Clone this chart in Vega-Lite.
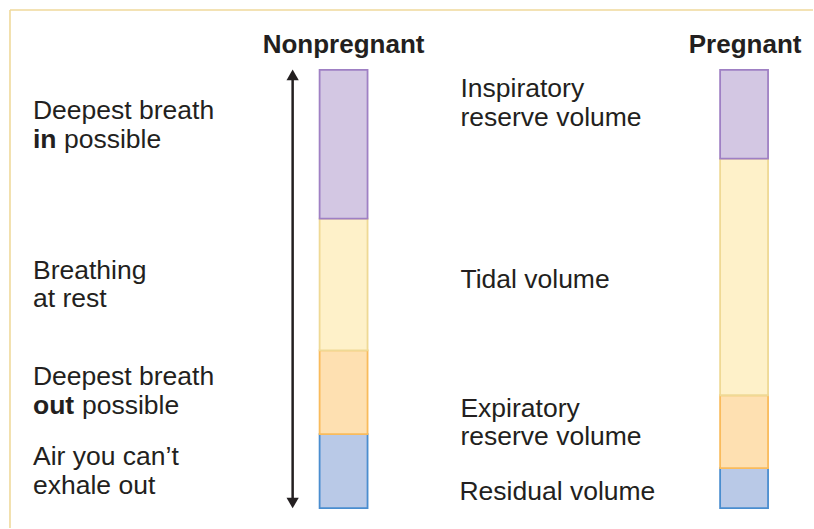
{
  "$schema": "https://vega.github.io/schema/vega-lite/v6.json",
  "width": 814,
  "height": 529,
  "autosize": {"type": "fit", "contains": "padding"},
  "padding": 0,
  "background": "white",
  "config": {"view": {"stroke": null}},
  "datasets": {
    "frame": [
      {"x": 10, "x2": 10, "y": 499, "y2": -20},
      {"x": 10, "x2": 814, "y": 499, "y2": 499}
    ],
    "segments": [
      {"group": "Nonpregnant", "x": 320, "x2": 368, "component": "Residual volume", "lo": 0, "hi": 74},
      {"group": "Nonpregnant", "x": 320, "x2": 368, "component": "Expiratory reserve volume", "lo": 74, "hi": 158},
      {"group": "Nonpregnant", "x": 320, "x2": 368, "component": "Tidal volume", "lo": 158, "hi": 290},
      {"group": "Nonpregnant", "x": 320, "x2": 368, "component": "Inspiratory reserve volume", "lo": 290, "hi": 439},
      {"group": "Pregnant", "x": 721, "x2": 769, "component": "Residual volume", "lo": 0, "hi": 40},
      {"group": "Pregnant", "x": 721, "x2": 769, "component": "Expiratory reserve volume", "lo": 40, "hi": 113},
      {"group": "Pregnant", "x": 721, "x2": 769, "component": "Tidal volume", "lo": 113, "hi": 350},
      {"group": "Pregnant", "x": 721, "x2": 769, "component": "Inspiratory reserve volume", "lo": 350, "hi": 439}
    ],
    "arrow": [{"x": 293, "y": 5, "y2": 434}],
    "heads": [
      {"x": 293, "y": 434, "dir": "up"},
      {"x": 293, "y": 5, "dir": "down"}
    ],
    "titles": [
      {"text": "Nonpregnant", "x": 344, "y": 456},
      {"text": "Pregnant", "x": 746, "y": 456}
    ],
    "labels": [
      {"text": "Deepest breath", "x": 33, "y": 390, "weight": "normal"},
      {"text": "in", "x": 33, "y": 361, "weight": "bold"},
      {"text": "possible", "x": 64, "y": 361, "weight": "normal"},
      {"text": "Breathing", "x": 33, "y": 229, "weight": "normal"},
      {"text": "at rest", "x": 33, "y": 201, "weight": "normal"},
      {"text": "Deepest breath", "x": 33, "y": 123, "weight": "normal"},
      {"text": "out", "x": 33, "y": 94, "weight": "bold"},
      {"text": "possible", "x": 82, "y": 94, "weight": "normal"},
      {"text": "Air you can’t", "x": 33, "y": 43, "weight": "normal"},
      {"text": "exhale out", "x": 33, "y": 14, "weight": "normal"},
      {"text": "Inspiratory", "x": 461, "y": 412, "weight": "normal"},
      {"text": "reserve volume", "x": 461, "y": 383, "weight": "normal"},
      {"text": "Tidal volume", "x": 461, "y": 220, "weight": "normal"},
      {"text": "Expiratory", "x": 461, "y": 91, "weight": "normal"},
      {"text": "reserve volume", "x": 461, "y": 63, "weight": "normal"},
      {"text": "Residual volume", "x": 460, "y": 8, "weight": "normal"}
    ]
  },
  "encoding": {
    "x": {"field": "x", "type": "quantitative", "scale": {"domain": [0, 814], "nice": false, "zero": false}, "axis": null},
    "y": {"field": "y", "type": "quantitative", "scale": {"domain": [-20, 509], "nice": false, "zero": false}, "axis": null}
  },
  "layer": [
    {
      "data": {"name": "frame"},
      "mark": {"type": "rule", "stroke": "#efd99b", "strokeWidth": 1.6},
      "encoding": {"x2": {"field": "x2"}, "y2": {"field": "y2"}}
    },
    {
      "data": {"name": "segments"},
      "mark": {"type": "rect", "strokeWidth": 1.8},
      "encoding": {
        "y": {"field": "lo", "type": "quantitative"},
        "y2": {"field": "hi"},
        "x2": {"field": "x2"},
        "fill": {
          "field": "component", "type": "nominal", "legend": null,
          "scale": {
            "domain": ["Inspiratory reserve volume", "Tidal volume", "Expiratory reserve volume", "Residual volume"],
            "range": ["#d3c7e3", "#fef1c9", "#fee0b1", "#b9c9e7"]
          }
        },
        "stroke": {
          "field": "component", "type": "nominal", "legend": null,
          "scale": {
            "domain": ["Inspiratory reserve volume", "Tidal volume", "Expiratory reserve volume", "Residual volume"],
            "range": ["#9f80c4", "#efd995", "#f9bb5c", "#4a8dcf"]
          }
        }
      }
    },
    {
      "data": {"name": "arrow"},
      "mark": {"type": "rule", "stroke": "#231f20", "strokeWidth": 2.5},
      "encoding": {"y2": {"field": "y2"}}
    },
    {
      "data": {"name": "heads"},
      "mark": {"type": "point", "filled": true, "size": 150, "color": "#231f20", "opacity": 1},
      "encoding": {
        "shape": {
          "field": "dir", "type": "nominal", "legend": null,
          "scale": {"domain": ["up", "down"], "range": ["triangle-up", "triangle-down"]}
        }
      }
    },
    {
      "data": {"name": "titles"},
      "mark": {"type": "text", "font": "Liberation Sans", "fontSize": 26, "fontWeight": "bold", "align": "center", "baseline": "alphabetic", "color": "#231f20"},
      "encoding": {"text": {"field": "text"}}
    },
    {
      "data": {"name": "labels"},
      "transform": [{"filter": "datum.weight === 'normal'"}],
      "mark": {"type": "text", "font": "Liberation Sans", "fontSize": 26.5, "align": "left", "baseline": "alphabetic", "color": "#231f20"},
      "encoding": {"text": {"field": "text"}}
    },
    {
      "data": {"name": "labels"},
      "transform": [{"filter": "datum.weight === 'bold'"}],
      "mark": {"type": "text", "font": "Liberation Sans", "fontSize": 26.5, "fontWeight": "bold", "align": "left", "baseline": "alphabetic", "color": "#231f20"},
      "encoding": {"text": {"field": "text"}}
    }
  ]
}
